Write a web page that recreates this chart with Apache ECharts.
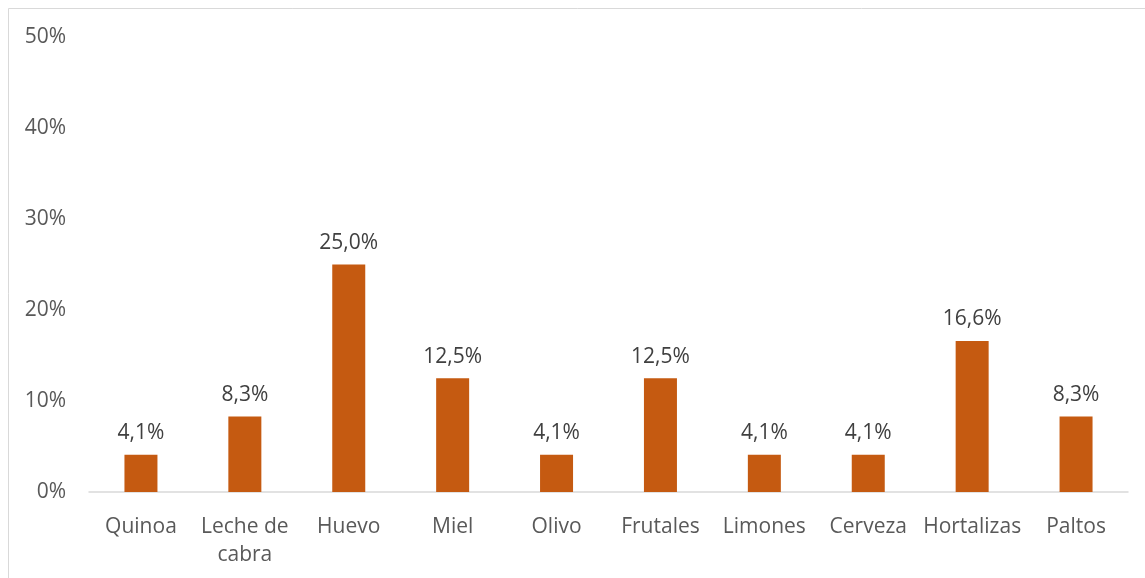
<!DOCTYPE html>
<html>
<head>
<meta charset="utf-8">
<script src="https://cdn.jsdelivr.net/npm/echarts@6/dist/echarts.min.js"></script>
<style>
  html, body { margin: 0; padding: 0; background: #fff; }
  #main { width: 1145px; height: 578px; }
</style>
</head>
<body>
<div id="main"></div>
<script>
// categorias y porcentajes
var categorias = ["Quinoa", "Leche de\ncabra", "Huevo", "Miel", "Olivo", "Frutales", "Limones", "Cerveza", "Hortalizas", "Paltos"];
var porcentajes = [4.1, 8.3, 25.0, 12.5, 4.1, 12.5, 4.1, 4.1, 16.6, 8.3];
var ticksY = [0, 10, 20, 30, 40, 50];

var myChart = echarts.init(document.getElementById('main'));
var fuente = "'Open Sans', sans-serif";

var option = {
    animation: false,
    backgroundColor: '#fff',
    graphic: [{
        type: 'rect',
        shape: { x: 8.5, y: 8.5, width: 1200, height: 700 },
        style: { fill: 'none', stroke: '#D9D9D9', lineWidth: 1 },
        silent: true
    }],
    grid: { left: 89, right: 17, top: 37, bottom: 86 },
    xAxis: {
        type: 'category',
        data: categorias,
        axisLine: { lineStyle: { color: '#D9D9D9', width: 1.5 } },
        axisTick: { show: false },
        axisLabel: {
            color: '#595959', fontSize: 21, fontFamily: fuente,
            margin: 21, lineHeight: 28, interval: 0
        }
    },
    yAxis: {
        type: 'value',
        min: ticksY[0],
        max: ticksY[ticksY.length - 1],
        interval: 10,
        splitLine: { show: false },
        axisLine: { show: false },
        axisTick: { show: false },
        axisLabel: {
            color: '#595959', fontSize: 21, fontFamily: fuente, margin: 23,
            formatter: function (v) { return v + '%'; }
        }
    },
    series: [{
        type: 'bar',
        data: porcentajes,
        barWidth: 33,
        itemStyle: { color: '#C55A11' },
        label: {
            show: true,
            position: 'top',
            distance: 11,
            color: '#404040',
            fontSize: 21,
            fontFamily: fuente,
            formatter: function (p) { return p.value.toFixed(1).replace('.', ',') + '%'; }
        }
    }]
};
myChart.setOption(option);
</script>
</body>
</html>
